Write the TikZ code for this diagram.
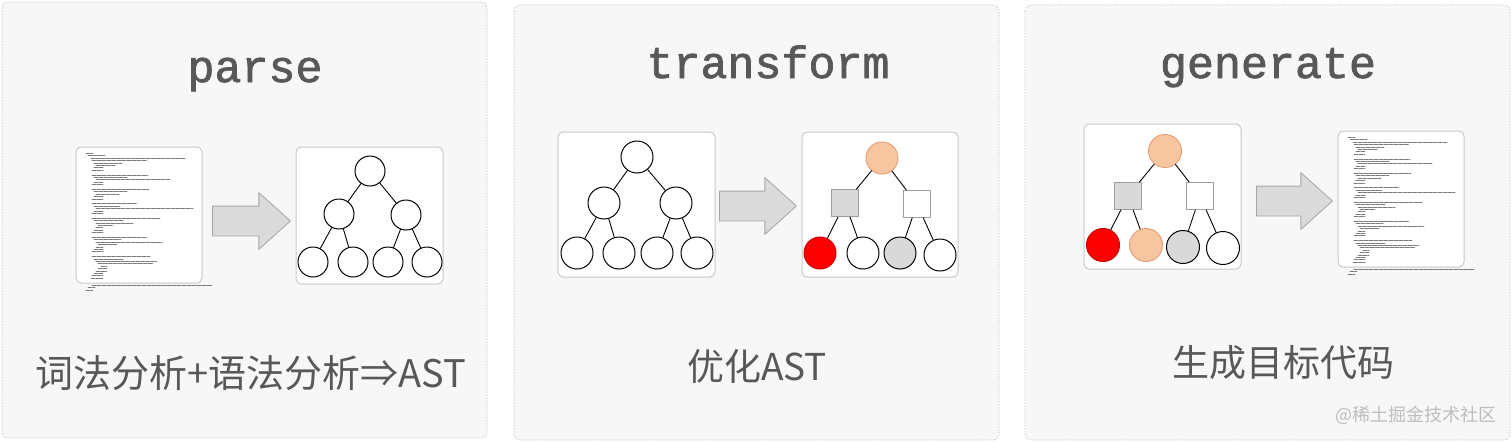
\documentclass[tikz,border=0pt]{standalone}
\usepackage{fontspec}
\newfontfamily\cjk{Noto Sans CJK SC}
\newfontfamily\monofont[FakeBold=1.6]{Liberation Mono}
\usetikzlibrary{shapes.arrows}
\definecolor{panelbg}{HTML}{F7F7F7}
\definecolor{panelline}{HTML}{C4C4C4}
\definecolor{frameline}{HTML}{C8C8C8}
\definecolor{arrowfill}{HTML}{DADADA}
\definecolor{arrowline}{HTML}{A6A6A6}
\definecolor{warmfill}{HTML}{F7C6A0}
\definecolor{warmline}{HTML}{E3A27A}
\definecolor{hotfill}{HTML}{FF0000}
\definecolor{hotline}{HTML}{D40000}
\definecolor{coolfill}{HTML}{D9D9D9}
\definecolor{coolline}{HTML}{9E9E9E}
\definecolor{textgray}{HTML}{585858}
\definecolor{markgray}{HTML}{BDBDBD}
\tikzset{
	panel/.style={draw=panelline,fill=panelbg,dotted,rounded corners=6pt,line width=0.8pt},
	frame/.style={draw=frameline,fill=white,rounded corners=5pt,line width=1pt,inner sep=0pt},
	leaf/.style={circle,draw=black,fill=white,line width=1pt,inner sep=0pt,minimum size=#1},
	hot/.style={leaf=#1,draw=hotline,fill=hotfill},
	warm/.style={leaf=#1,draw=warmline,fill=warmfill},
	cool/.style={leaf=#1,fill=coolfill},
	sq/.style={rectangle,draw=coolline,fill=white,line width=1pt,inner sep=0pt,minimum size=27pt},
	sqg/.style={sq,fill=coolfill},
	edge/.style={line width=0.9pt,draw=black},
	bigarrow/.style={single arrow,anchor=tip,draw=arrowline,fill=arrowfill,line width=0.8pt,inner xsep=0pt,inner ysep=14.5pt,single arrow head extend=13.5pt,single arrow head indent=0pt,single arrow tip angle=84},
	codeline/.style={line width=0.7pt,draw=black!52,dash pattern=on 4pt off 1pt},
	title/.style={anchor=base,text=textgray,font=\monofont\fontsize{45}{50}\selectfont},
	caption/.style={anchor=base,text=textgray,font=\cjk\fontsize{37}{42}\selectfont}
}
\newcommand{\codeat}[2]{%
	\foreach \rr/\xa/\xb in {0/10/17,1/12/29,2/15/109,3/16/71,4/18/46,5/20/39,6/18/27,7/16/27,
		9/16/72,10/18/51,11/20/94,12/18/27,13/16/27,15/16/73,16/18/51,17/20/43,18/18/27,19/16/27,
		21/16/61,22/18/44,23/20/117,24/18/27,25/16/27,27/16/84,28/18/47,29/20/57,30/22/37,31/20/27,32/18/27,33/16/27,
		35/16/71,36/18/45,37/20/86,38/22/41,39/20/27,40/18/27,41/16/27,
		43/16/74,44/18/47,45/20/81,46/22/77,47/25/31,48/22/31,49/20/31,50/18/27,51/16/27,52/15/27,
		55/16/136,56/12/19,57/10/17}
	\draw[codeline] ({#1+\xa},{#2+6.3+2.4*\rr}) -- ({#1+\xb},{#2+6.3+2.4*\rr});}
\begin{document}
\begin{tikzpicture}[x=1pt,y=-1pt,line join=round,line cap=round]
	\useasboundingbox[fill=white] (0,0) rectangle (1512,442);
	\draw[panel] (2,2) rectangle (487,438);
	\draw[panel] (514,5) rectangle (999,440);
	\draw[panel] (1025,5) rectangle (1510,440);
	% parse
	\node[title] (t-parse) at (255,82) {parse};
	\node[frame,minimum width=126pt,minimum height=136pt] (p-code) at (139,215) {};
	\codeat{76}{147}
	\node[bigarrow,minimum height=78pt] (p-arr) at (291,221) {};
	\node[frame,minimum width=147pt,minimum height=137pt] (p-tree) at (369.5,215.5) {};
	\node[leaf=30pt] (p-r) at (370,171) {};
	\node[leaf=30pt] (p-a) at (339,214) {};
	\node[leaf=30pt] (p-b) at (406,215) {};
	\foreach \n/\x in {a1/313,a2/353,b1/388,b2/427} \node[leaf=30pt] (p-\n) at (\x,262) {};
	\foreach \u/\v in {r/a,r/b,a/a1,a/a2,b/b1,b/b2} \draw[edge] (p-\u) -- (p-\v);
	\node[caption,font=\cjk\fontsize{38}{42}\selectfont] (c-parse) at (250.5,387) {词法分析+语法分析⇒AST};
	% transform
	\node[title] (t-trans) at (768,78) {transform};
	\node[frame,minimum width=157pt,minimum height=145pt] (q-tree) at (636.5,204.5) {};
	\node[leaf=32pt] (q-r) at (637,157) {};
	\node[leaf=32pt] (q-a) at (604,203) {};
	\node[leaf=32pt] (q-b) at (676,203) {};
	\foreach \n/\x in {a1/577,a2/619,b1/657,b2/697} \node[leaf=32pt] (q-\n) at (\x,253) {};
	\foreach \u/\v in {r/a,r/b,a/a1,a/a2,b/b1,b/b2} \draw[edge] (q-\u) -- (q-\v);
	\node[bigarrow,minimum height=77pt] (q-arr) at (797,206) {};
	\node[frame,minimum width=156pt,minimum height=145pt] (s-tree) at (880,204.5) {};
	\node[warm=32pt] (s-r) at (882,158) {};
	\node[sqg] (s-a) at (845,203) {};
	\node[sq] (s-b) at (917,204) {};
	\node[hot=32pt] (s-a1) at (820,253) {};
	\node[leaf=32pt] (s-a2) at (863,253) {};
	\node[cool=32pt] (s-b1) at (900,253) {};
	\node[leaf=32pt] (s-b2) at (940,255) {};
	\foreach \u/\v in {r/a,r/b,a/a1,a/a2,b/b1,b/b2} \draw[edge] (s-\u) -- (s-\v);
	\node[caption] (c-trans) at (757,380) {优化AST};
	% generate
	\node[title] (t-gen) at (1268,78) {generate};
	\node[frame,minimum width=157pt,minimum height=145pt] (g-tree) at (1162.5,196.5) {};
	\node[warm=33pt] (g-r) at (1165,151) {};
	\node[sqg] (g-a) at (1128,196) {};
	\node[sq] (g-b) at (1200,196) {};
	\node[hot=33pt] (g-a1) at (1103,245) {};
	\node[warm=33pt] (g-a2) at (1146,245) {};
	\node[cool=33pt] (g-b1) at (1183,247) {};
	\node[leaf=33pt] (g-b2) at (1223,248) {};
	\foreach \u/\v in {r/a,r/b,a/a1,a/a2,b/b1,b/b2} \draw[edge] (g-\u) -- (g-\v);
	\node[bigarrow,minimum height=76pt] (g-arr) at (1333,201) {};
	\node[frame,minimum width=126pt,minimum height=136pt] (g-code) at (1401,199) {};
	\codeat{1338}{131}
	\node[caption] (c-gen) at (1283.5,376) {生成目标代码};
	\node[anchor=base,text=markgray,font=\cjk\fontsize{18}{20}\selectfont] (mark) at (1416,421) {@稀土掘金技术社区};
\end{tikzpicture}
\end{document}
